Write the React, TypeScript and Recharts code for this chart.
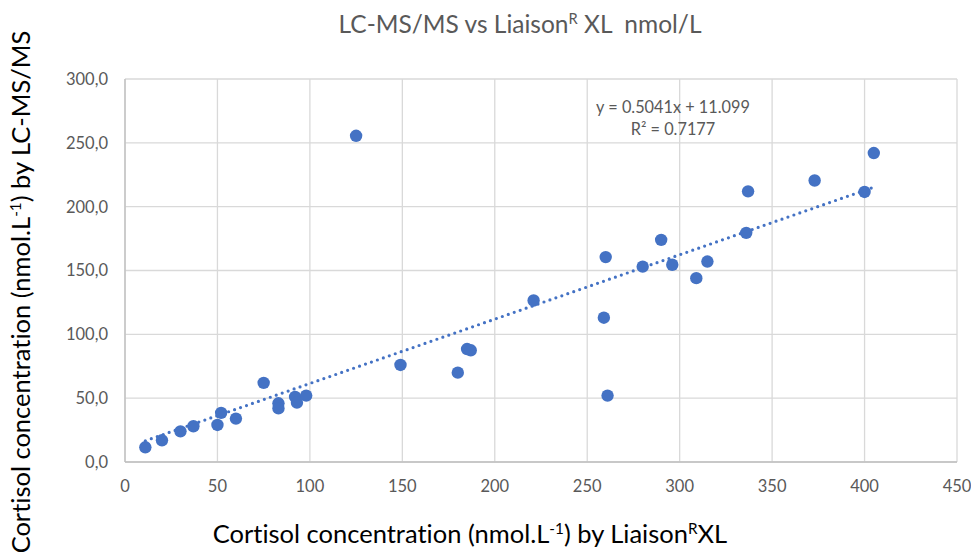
import {
  ScatterChart,
  Scatter,
  XAxis,
  YAxis,
  CartesianGrid,
  ReferenceLine,
} from "recharts";

// Liaison XL (x) vs LC-MS/MS (y), nmol/L
const liaisonValues = [
  11, 20, 30, 37, 50, 52, 60, 75, 83, 83, 92, 93, 98, 125, 149, 180, 185, 187,
  221, 259, 260, 261, 280, 290, 296, 309, 315, 336, 337, 373, 400, 405,
];
const lcmsValues = [
  11.5, 17, 24, 28, 29, 38.5, 34, 62, 46, 42, 51, 46.5, 52, 255.5, 76, 70, 88.5, 87.5,
  126.5, 113, 160.5, 52, 153, 174, 154.5, 144, 157, 179.5, 212, 220.5, 211.5, 242,
];

const xTicks = [0, 50, 100, 150, 200, 250, 300, 350, 400, 450];
const yTicks = [0, 50, 100, 150, 200, 250, 300];

// Excel linear trendline shown on the chart
const slope = 0.5041;
const intercept = 11.099;

const points = liaisonValues.map((x, i) => ({ x, y: lcmsValues[i] }));
const xMin = Math.min(...liaisonValues);
const xMax = Math.max(...liaisonValues);

const BLUE = "#4472C4";
const GREY_TEXT = "#595959";
const FONT = "Lato, 'Open Sans', sans-serif";

const Dot = (props: any) => <circle cx={props.cx} cy={props.cy} r={6.2} fill={BLUE} />;

export default function App() {
  return (
    <div
      style={{
        position: "absolute",
        left: 0,
        top: 0,
        width: 971,
        height: 554,
        background: "#fff",
        fontFamily: FONT,
        fontVariantLigatures: "none",
        overflow: "hidden",
      }}
    >
      <ScatterChart width={971} height={554} margin={{ top: 79, right: 14, bottom: 62, left: 65 }}>
        <CartesianGrid stroke="#d9d9d9" strokeWidth={1.3} />
        <XAxis
          type="number"
          dataKey="x"
          domain={[0, 450]}
          ticks={xTicks}
          height={30}
          tickLine={false}
          tickSize={0}
          tickMargin={18}
          axisLine={{ stroke: "#bfbfbf", strokeWidth: 1.3 }}
          tick={{ fill: GREY_TEXT, fontSize: 16.5, fontFamily: FONT }}
          interval={0}
        />
        <YAxis
          type="number"
          dataKey="y"
          domain={[0, 300]}
          ticks={yTicks}
          width={60}
          tickLine={false}
          tickSize={0}
          tickMargin={17}
          axisLine={{ stroke: "#bfbfbf", strokeWidth: 1.3 }}
          tick={{ fill: GREY_TEXT, fontSize: 16.5, fontFamily: FONT }}
          tickFormatter={(v: number) => v.toFixed(1).replace(".", ",")}
          interval={0}
        />
        <ReferenceLine
          segment={[
            { x: xMin, y: slope * xMin + intercept },
            { x: xMax, y: slope * xMax + intercept },
          ]}
          stroke={BLUE}
          strokeWidth={3.2}
          strokeDasharray="0 6.3"
          strokeLinecap="round"
          ifOverflow="visible"
        />
        <Scatter data={points} fill={BLUE} shape={<Dot />} isAnimationActive={false} />
      </ScatterChart>

      <div style={{ position: "absolute", left: 0, width: 1040, top: 9, textAlign: "center", fontSize: 24.5, color: GREY_TEXT, whiteSpace: "pre" }}>
        LC-MS/MS vs Liaison<sup style={{ fontSize: "0.6em" }}>R</sup> XL  nmol/L
      </div>

      <div style={{ position: "absolute", left: 560, width: 226, top: 96, textAlign: "center", fontSize: 16.3, color: GREY_TEXT, lineHeight: "22px" }}>
        y = 0.5041x + 11.099
        <br />
        R² = 0.7177
      </div>

      <div style={{ position: "absolute", left: 0, width: 940, top: 518, textAlign: "center", fontSize: 25.5, color: "#000", whiteSpace: "nowrap" }}>
        Cortisol concentration (nmol.L<sup style={{ fontSize: "0.6em" }}>-1</sup>) by Liaison<sup style={{ fontSize: "0.6em" }}>R</sup>XL
      </div>

      <div
        style={{
          position: "absolute",
          left: 20,
          top: 292,
          transform: "translate(-50%, -50%) rotate(-90deg)",
          fontSize: 25.5,
          color: "#000",
          whiteSpace: "nowrap",
        }}
      >
        Cortisol concentration (nmol.L<sup style={{ fontSize: "0.6em" }}>-1</sup>) by LC-MS/MS
      </div>
    </div>
  );
}
